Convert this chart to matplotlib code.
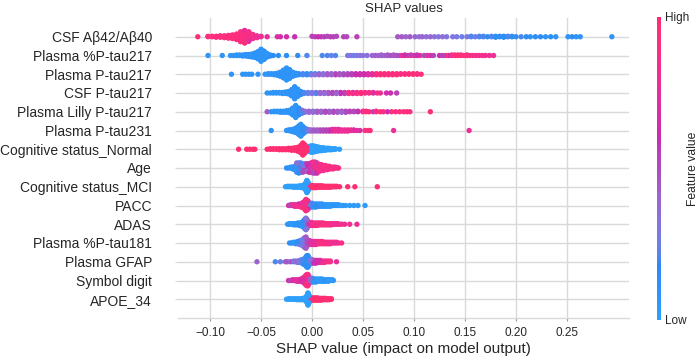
import numpy as np
import matplotlib
matplotlib.use('Agg')
import matplotlib.pyplot as plt
from matplotlib.colors import LinearSegmentedColormap, Normalize
from matplotlib.cm import ScalarMappable

plt.rcParams['font.family'] = ['Liberation Sans', 'DejaVu Sans']

# ─── Data: (SHAP value, n samples, feature value 0..1) ───

FEATURES = [
    'CSF Aβ42/Aβ40', 'Plasma %P-tau217', 'Plasma P-tau217', 'CSF P-tau217',
    'Plasma Lilly P-tau217', 'Plasma P-tau231', 'Cognitive status_Normal', 'Age',
    'Cognitive status_MCI', 'PACC', 'ADAS', 'Plasma %P-tau181', 'Plasma GFAP',
    'Symbol digit', 'APOE_34',
]

csf_ab_ratio = [
    (-0.112, 1, .95), (-0.102, 2, .9), (-0.098, 2, .95), (-0.094, 3, .9), (-0.090, 4, .95),
    (-0.086, 5, .9), (-0.082, 7, .95), (-0.078, 9, .9), (-0.074, 13, .95), (-0.070, 19, .9),
    (-0.070, 4, .75), (-0.066, 24, .95), (-0.066, 5, .75), (-0.062, 18, .9), (-0.062, 4, .7),
    (-0.058, 10, .85), (-0.054, 5, .8), (-0.050, 2, .8),
    (-0.044, 1, .75), (-0.034, 1, .7), (-0.031, 1, .65), (-0.025, 1, .65), (-0.017, 1, .6),
    (0.000, 1, .55), (0.003, 1, .55), (0.006, 1, .6), (0.009, 1, .55), (0.012, 1, .55),
    (0.015, 1, .5), (0.018, 1, .55), (0.021, 1, .55), (0.024, 1, .5), (0.031, 1, .55),
    (0.034, 1, .5), (0.044, 1, .55),
    (0.084, 1, .45), (0.088, 1, .45), (0.092, 1, .4), (0.096, 1, .45), (0.101, 1, .4),
    (0.105, 1, .35), (0.108, 1, .4), (0.112, 1, .35), (0.116, 1, .4), (0.120, 1, .35),
    (0.124, 1, .3), (0.128, 1, .35), (0.132, 1, .3), (0.138, 1, .3), (0.142, 1, .3),
    (0.147, 1, .25), (0.152, 1, .3), (0.156, 2, .2), (0.160, 1, .25), (0.164, 2, .2),
    (0.168, 2, .2), (0.172, 1, .15), (0.176, 2, .2), (0.180, 3, .15), (0.184, 2, .15),
    (0.188, 3, .15), (0.192, 2, .2), (0.196, 2, .15), (0.200, 1, .15), (0.205, 1, .2),
    (0.210, 1, .15), (0.214, 1, .1), (0.219, 1, .15), (0.224, 1, .15), (0.229, 1, .1),
    (0.234, 1, .15), (0.239, 1, .1), (0.251, 1, .1), (0.255, 1, .15), (0.259, 1, .1),
    (0.263, 1, .1), (0.294, 1, .1),
]

plasma_pct_ptau217 = [
    (-0.102, 1, .1), (-0.088, 1, .1), (-0.080, 1, .1), (-0.077, 1, .1), (-0.074, 2, .1),
    (-0.071, 2, .1), (-0.068, 3, .1), (-0.065, 4, .1), (-0.062, 5, .1), (-0.059, 7, .1),
    (-0.056, 10, .1), (-0.053, 16, .1), (-0.050, 26, .1), (-0.047, 18, .1), (-0.044, 8, .1),
    (-0.041, 3, .15), (-0.038, 1, .15),
    (-0.033, 1, .15), (-0.025, 1, .15), (-0.014, 1, .15), (-0.005, 1, .2), (0.010, 1, .2),
    (0.015, 1, .2), (0.019, 1, .25), (0.023, 1, .2),
    (0.035, 1, .3), (0.038, 1, .3), (0.041, 1, .25), (0.044, 1, .3), (0.047, 1, .35),
    (0.050, 1, .3), (0.054, 1, .35), (0.059, 1, .4), (0.062, 1, .45), (0.065, 1, .4),
    (0.068, 2, .45), (0.071, 1, .4), (0.074, 2, .45), (0.077, 1, .5), (0.080, 2, .45),
    (0.083, 1, .5), (0.086, 1, .45), (0.088, 1, .8), (0.091, 2, .6), (0.094, 1, .85),
    (0.097, 2, .55), (0.100, 1, .8), (0.103, 2, .6), (0.106, 1, .85), (0.110, 1, .5),
    (0.113, 1, .8), (0.116, 1, .6), (0.119, 1, .55), (0.125, 1, .6), (0.128, 1, .55),
    (0.131, 1, .85), (0.134, 1, .6), (0.137, 2, .9), (0.140, 2, .9), (0.143, 2, .95),
    (0.146, 2, .9), (0.149, 1, .95), (0.152, 2, .9), (0.155, 1, .85), (0.158, 1, .9),
    (0.161, 1, .85), (0.164, 1, .9), (0.167, 1, .85), (0.170, 1, .8), (0.174, 1, .85),
    (0.178, 1, .8),
]

plasma_ptau217 = [
    (-0.079, 1, .1), (-0.068, 1, .1), (-0.065, 1, .1), (-0.062, 1, .1), (-0.059, 1, .1),
    (-0.053, 1, .1), (-0.046, 1, .1), (-0.043, 2, .1), (-0.040, 2, .1), (-0.037, 3, .1),
    (-0.034, 5, .1), (-0.031, 9, .1), (-0.028, 16, .1), (-0.025, 24, .1), (-0.022, 18, .1),
    (-0.019, 9, .1), (-0.016, 5, .1),
    (-0.013, 3, .15), (-0.009, 3, .2), (-0.005, 3, .15), (-0.001, 2, .3), (-0.001, 1, .15),
    (0.003, 2, .35), (0.003, 1, .2), (0.007, 2, .4), (0.007, 1, .25), (0.011, 3, .35),
    (0.015, 2, .45), (0.015, 1, .3), (0.019, 3, .4), (0.023, 2, .45), (0.023, 1, .55),
    (0.027, 3, .45), (0.031, 2, .5), (0.031, 1, .35), (0.035, 3, .5), (0.039, 3, .55),
    (0.043, 3, .6), (0.047, 3, .65), (0.051, 3, .6), (0.055, 3, .7), (0.059, 3, .75),
    (0.063, 3, .9), (0.067, 3, .95), (0.071, 3, .9), (0.075, 3, .95), (0.079, 3, .9),
    (0.083, 3, .95), (0.087, 2, .9), (0.091, 2, .95), (0.095, 2, .9), (0.099, 2, .95),
    (0.103, 2, .9), (0.107, 1, .95),
]

csf_ptau217 = [
    (-0.044, 1, .1), (-0.041, 1, .1), (-0.038, 2, .1), (-0.035, 2, .1), (-0.032, 2, .1),
    (-0.029, 3, .1), (-0.026, 4, .1), (-0.023, 6, .1), (-0.020, 14, .1), (-0.017, 26, .1),
    (-0.014, 16, .1), (-0.011, 7, .15),
    (-0.008, 3, .2), (-0.004, 3, .25), (0.000, 3, .3), (0.004, 2, .35), (0.004, 1, .2),
    (0.008, 3, .4), (0.012, 2, .35), (0.012, 1, .5), (0.016, 3, .45), (0.020, 3, .5),
    (0.024, 2, .55), (0.024, 1, .4), (0.028, 3, .6), (0.032, 2, .7), (0.032, 1, .5),
    (0.036, 3, .9), (0.040, 2, .85), (0.040, 1, .6), (0.044, 3, .9), (0.048, 2, .95),
    (0.048, 1, .65), (0.052, 2, .85), (0.056, 2, .9), (0.060, 2, .7), (0.064, 1, .9),
    (0.067, 1, .8), (0.073, 1, .65), (0.077, 1, .6), (0.083, 1, .55),
]

plasma_lilly_ptau217 = [
    (-0.044, 1, .45), (-0.040, 1, .1), (-0.037, 2, .1), (-0.034, 2, .1), (-0.031, 3, .1),
    (-0.028, 3, .1), (-0.025, 4, .1), (-0.022, 6, .1), (-0.019, 14, .1), (-0.016, 24, .1),
    (-0.013, 14, .15), (-0.010, 5, .2), (-0.010, 2, .4),
    (-0.007, 3, .35), (-0.003, 3, .4), (0.001, 3, .35), (0.005, 3, .45), (0.009, 3, .4),
    (0.013, 3, .5), (0.017, 2, .45), (0.017, 1, .3), (0.021, 3, .5), (0.025, 3, .45),
    (0.029, 2, .55), (0.029, 1, .4), (0.033, 3, .5), (0.037, 2, .55), (0.041, 2, .5),
    (0.045, 2, .6), (0.050, 2, .9), (0.053, 2, .95), (0.056, 1, .9), (0.060, 1, .55),
    (0.063, 2, .9), (0.067, 1, .95), (0.070, 1, .9), (0.074, 1, .6), (0.078, 1, .95),
    (0.082, 1, .9), (0.086, 1, .95), (0.090, 1, .9), (0.093, 1, .95), (0.096, 1, .9),
    (0.116, 1, .95),
]

plasma_ptau231 = [
    (-0.040, 1, .1), (-0.025, 1, .1), (-0.023, 2, .1), (-0.021, 3, .1), (-0.019, 5, .1),
    (-0.017, 7, .1), (-0.015, 10, .1), (-0.013, 16, .1), (-0.011, 22, .1), (-0.009, 14, .15),
    (-0.007, 8, .2), (-0.004, 4, .35), (-0.001, 3, .4), (0.002, 3, .45), (0.005, 3, .45),
    (0.008, 3, .5), (0.011, 3, .5), (0.014, 3, .55), (0.017, 3, .6), (0.020, 4, .75),
    (0.023, 4, .8), (0.026, 4, .7), (0.029, 3, .85), (0.032, 3, .8), (0.035, 3, .75),
    (0.038, 2, .85), (0.041, 2, .7), (0.044, 1, .75), (0.047, 1, .65), (0.052, 1, .9),
    (0.055, 1, .95), (0.057, 1, .9), (0.080, 1, .8), (0.154, 1, .8),
]

cognitive_normal = [
    (-0.072, 1, 1), (-0.064, 1, 1), (-0.061, 1, 1), (-0.058, 1, 1), (-0.056, 1, 1),
    (-0.044, 1, 1), (-0.041, 2, 1), (-0.038, 2, 1), (-0.035, 2, 1), (-0.032, 3, 1),
    (-0.029, 3, 1), (-0.026, 3, 1), (-0.023, 4, 1), (-0.020, 5, 1), (-0.017, 6, 1),
    (-0.014, 9, 1), (-0.011, 16, 1), (-0.009, 26, 1), (-0.007, 18, 1), (-0.005, 8, 1),
    (-0.003, 10, 0), (-0.001, 14, 0), (0.001, 14, 0), (0.003, 12, 0), (0.005, 10, 0),
    (0.007, 8, 0), (0.009, 7, 0), (0.011, 6, 0), (0.013, 5, 0), (0.015, 4, 0),
    (0.017, 4, 0), (0.019, 3, 0), (0.021, 2, 0), (0.023, 2, 0), (0.027, 1, 0),
]

age = [
    (-0.025, 1, .1), (-0.023, 1, .15), (-0.021, 2, .1), (-0.019, 3, .15), (-0.017, 5, .1),
    (-0.015, 8, .2), (-0.015, 4, .35), (-0.013, 8, .15), (-0.013, 5, .4), (-0.011, 7, .2),
    (-0.011, 5, .45), (-0.009, 6, .25), (-0.009, 5, .5), (-0.007, 5, .3), (-0.007, 5, .55),
    (-0.005, 4, .35), (-0.005, 6, .6), (-0.003, 4, .4), (-0.003, 7, .65), (-0.001, 3, .45),
    (-0.001, 9, .75), (0.001, 3, .5), (0.001, 11, .85), (0.003, 2, .55), (0.003, 12, .9),
    (0.005, 2, .6), (0.005, 11, .9), (0.007, 9, .85), (0.009, 8, .9), (0.011, 7, .85),
    (0.013, 6, .9), (0.015, 5, .85), (0.017, 4, .9), (0.019, 3, .85), (0.021, 3, .9),
    (0.023, 2, .85), (0.025, 1, .9), (0.026, 1, .95),
]

cognitive_mci = [
    (-0.026, 1, 0), (-0.024, 2, 0), (-0.022, 2, 0), (-0.020, 2, 0), (-0.018, 3, 0),
    (-0.016, 3, 0), (-0.014, 3, 0), (-0.012, 4, 0), (-0.010, 5, 0), (-0.008, 8, 0),
    (-0.006, 18, 0), (-0.005, 28, 0), (-0.004, 20, 0),
    (-0.002, 6, 1), (0.000, 6, 1), (0.002, 5, 1), (0.004, 5, 1), (0.006, 4, 1),
    (0.008, 4, 1), (0.010, 4, 1), (0.012, 3, 1), (0.014, 3, 1), (0.016, 3, 1),
    (0.018, 3, 1), (0.020, 2, 1), (0.022, 2, 1), (0.024, 2, 1), (0.027, 1, 1),
    (0.035, 1, 1), (0.042, 1, 1), (0.064, 1, 1),
]

pacc = [
    (-0.023, 1, .7), (-0.021, 2, .5), (-0.019, 2, .8), (-0.017, 3, .6), (-0.015, 3, .85),
    (-0.013, 4, .65), (-0.011, 5, .9), (-0.009, 8, .8), (-0.008, 8, .9), (-0.007, 12, .95),
    (-0.006, 16, .9), (-0.005, 14, .85), (-0.004, 8, .6), (-0.004, 4, .45),
    (-0.002, 6, .3), (0.000, 6, .2), (0.002, 5, .1), (0.004, 5, .15), (0.006, 4, .1),
    (0.008, 4, .1), (0.010, 4, .1), (0.012, 3, .1), (0.014, 3, .1), (0.016, 3, .05),
    (0.018, 3, .1), (0.020, 2, .05), (0.022, 2, .1), (0.024, 2, .05), (0.026, 2, .1),
    (0.028, 1, .05), (0.030, 1, .1), (0.033, 1, .05), (0.037, 1, .05), (0.041, 1, .05),
    (0.045, 1, .05), (0.052, 1, .05),
]

adas = [
    (-0.024, 1, .05), (-0.022, 2, .1), (-0.020, 2, .05), (-0.018, 3, .1), (-0.016, 3, .1),
    (-0.014, 4, .1), (-0.012, 5, .15), (-0.010, 7, .1), (-0.008, 12, .2), (-0.007, 16, .15),
    (-0.006, 20, .3), (-0.005, 12, .4), (-0.005, 4, .75),
    (-0.003, 6, .6), (-0.001, 6, .8), (0.001, 5, .9), (0.003, 5, .85), (0.005, 5, .9),
    (0.007, 4, .95), (0.009, 4, .9), (0.011, 4, .85), (0.013, 3, .9), (0.015, 3, .95),
    (0.017, 3, .9), (0.019, 3, .85), (0.021, 2, .9), (0.023, 2, .8), (0.025, 2, .9),
    (0.027, 1, .85), (0.029, 1, .9), (0.032, 1, .8), (0.037, 1, .85), (0.044, 1, .8),
]

plasma_pct_ptau181 = [
    (-0.022, 1, .1), (-0.020, 1, .15), (-0.018, 2, .1), (-0.016, 3, .2), (-0.014, 4, .15),
    (-0.012, 6, .3), (-0.010, 8, .25), (-0.008, 12, .35), (-0.007, 14, .4), (-0.006, 16, .45),
    (-0.005, 10, .5), (-0.004, 6, .55),
    (-0.002, 6, .7), (0.000, 5, .85), (0.002, 5, .75), (0.004, 5, .9), (0.006, 4, .8),
    (0.008, 4, .9), (0.010, 4, .85), (0.012, 3, .9), (0.014, 3, .8), (0.016, 3, .9),
    (0.018, 3, .85), (0.020, 2, .9), (0.022, 2, .8), (0.024, 2, .9), (0.026, 1, .85),
    (0.029, 1, .9),
]

plasma_gfap = [
    (-0.054, 1, .4), (-0.036, 1, .2), (-0.031, 1, .25), (-0.026, 1, .45), (-0.024, 1, .4),
    (-0.021, 1, .5), (-0.018, 2, .3), (-0.016, 2, .35), (-0.014, 3, .25), (-0.012, 4, .3),
    (-0.010, 6, .2), (-0.008, 9, .15), (-0.006, 14, .1), (-0.005, 18, .15), (-0.004, 18, .1),
    (-0.003, 12, .2), (-0.002, 8, .3),
    (0.000, 6, .5), (0.002, 5, .6), (0.004, 5, .7), (0.006, 4, .65), (0.008, 4, .8),
    (0.010, 3, .75), (0.012, 3, .85), (0.014, 2, .8), (0.016, 2, .9), (0.018, 2, .85),
    (0.024, 1, .75),
]

symbol_digit = [
    (-0.023, 1, .65), (-0.021, 1, .5), (-0.019, 2, .7), (-0.017, 2, .55), (-0.015, 3, .75),
    (-0.013, 3, .6), (-0.011, 4, .8), (-0.009, 6, .7), (-0.008, 8, .85), (-0.007, 10, .9),
    (-0.006, 14, .95), (-0.005, 16, .9), (-0.004, 16, .85), (-0.003, 10, .6), (-0.002, 6, .4),
    (0.000, 6, .15), (0.002, 5, .1), (0.004, 5, .1), (0.006, 4, .05), (0.008, 4, .1),
    (0.010, 4, .05), (0.012, 3, .1), (0.014, 3, .05), (0.016, 3, .1), (0.018, 2, .05),
    (0.020, 2, .1), (0.021, 1, .05),
]

apoe_34 = [
    (-0.025, 1, 0), (-0.023, 2, 0), (-0.021, 2, 0), (-0.019, 2, 0), (-0.017, 2, 0),
    (-0.015, 3, 0), (-0.013, 3, 0), (-0.011, 3, 0), (-0.009, 4, 0), (-0.007, 6, 0),
    (-0.005, 16, 0), (-0.004, 28, 0), (-0.003, 18, 0),
    (-0.001, 5, 1), (0.001, 6, 1), (0.003, 6, 1), (0.005, 6, 1), (0.007, 5, 1),
    (0.009, 5, 1), (0.011, 4, 1), (0.013, 4, 1), (0.015, 3, 1), (0.017, 3, 1),
    (0.019, 2, 1),
]

ROWS = [
    csf_ab_ratio, plasma_pct_ptau217, plasma_ptau217, csf_ptau217,
    plasma_lilly_ptau217, plasma_ptau231, cognitive_normal, age, cognitive_mci,
    pacc, adas, plasma_pct_ptau181, plasma_gfap, symbol_digit, apoe_34,
]

XTICKS = [-0.10, -0.05, 0.00, 0.05, 0.10, 0.15, 0.20, 0.25]


# ─── shap-like red/blue colormap (lch interpolation) ───

def lch_to_rgb(l, c, h):
    a = c * np.cos(h)
    b = c * np.sin(h)
    fy = (l + 16) / 116
    fx = fy + a / 500
    fz = fy - b / 200

    def finv(t):
        return np.where(t ** 3 > 0.008856, t ** 3, (t - 16 / 116) / 7.787)

    xyz = np.array([0.95047 * finv(fx), finv(fy), 1.08883 * finv(fz)])
    m = np.array([[3.2406, -1.5372, -0.4986],
                  [-0.9689, 1.8758, 0.0415],
                  [0.0557, -0.2040, 1.0570]])
    rgb = m @ xyz
    rgb = np.where(rgb > 0.0031308, 1.055 * np.abs(rgb) ** (1 / 2.4) - 0.055, 12.92 * rgb)
    return np.clip(rgb, 0, 1)


def red_blue_cmap(wash=0.18):
    blue_lch = [54., 70., 4.6588]
    red_lch = [54., 90., 0.35470565 + 2 * np.pi]
    nsteps = 100
    ls = list(np.linspace(blue_lch[0], 40., nsteps // 2)) + list(np.linspace(40., red_lch[0], nsteps // 2))
    cs = np.linspace(blue_lch[1], red_lch[1], nsteps)
    hs = np.linspace(blue_lch[2], red_lch[2], nsteps)
    # slightly washed out, the reference is a bit lighter than shap's raw colours
    colors = [lch_to_rgb(l, c, h) * (1 - wash) + wash for l, c, h in zip(ls, cs, hs)]
    return LinearSegmentedColormap.from_list('red_blue', colors)


def swarm_offsets(x, key):
    """Stack points that fall into the same bin, like shap's beeswarm."""
    nbins = 100
    quant = np.round(nbins * (x - x.min()) / (x.max() - x.min() + 1e-8))
    order = np.lexsort((key, quant))
    ys = np.zeros(len(x))
    layer = 0
    last = -1
    for i in order:
        if quant[i] != last:
            layer = 0
        ys[i] = np.ceil(layer / 2) * ((layer % 2) * 2 - 1)
        layer += 1
        last = quant[i]
    return ys * 0.9 * 0.4 / np.max(ys + 1)


cmap = red_blue_cmap()
grid_col = '#d9d9d9'
text_col = '#262626'

fig = plt.figure(figsize=(7, 3.6), dpi=100)
ax = fig.add_axes([178 / 700, 1 - 318 / 360, 451 / 700, 300 / 360])

n_rows = len(FEATURES)
for i, groups in enumerate(ROWS):
    g = np.array(groups, dtype=float)
    xs = np.repeat(g[:, 0], g[:, 1].astype(int))
    cs = np.repeat(g[:, 2], g[:, 1].astype(int))
    key = (np.arange(len(xs)) * 0.6180339887) % 1
    ys = swarm_offsets(xs, key)
    pos = n_rows - 1 - i
    o = np.argsort(key)
    ax.scatter(xs[o], pos + ys[o], c=cs[o], cmap=cmap, vmin=0, vmax=1,
               s=15, linewidths=0, alpha=1, zorder=3)

ax.set_xlim(-0.1314, 0.3108)
ax.set_ylim(-1, n_rows)
ax.set_yticks(range(n_rows))
ax.set_yticklabels(FEATURES[::-1])
ax.set_xticks(XTICKS)
ax.set_xticklabels([f'{t:.2f}'.replace('-', '\u2212') for t in XTICKS])

ax.grid(True, color=grid_col, linewidth=1.0)
ax.set_axisbelow(True)
for s in ['top', 'right', 'left']:
    ax.spines[s].set_visible(False)
ax.spines['bottom'].set_color(grid_col)
ax.spines['bottom'].set_linewidth(1.0)

ax.tick_params(axis='x', length=2.2, width=0.8, color='#999999', pad=4.5,
               labelsize=8.5, labelcolor=text_col)
ax.tick_params(axis='y', length=2.2, width=0.8, color=grid_col, pad=16.5,
               labelsize=10, labelcolor=text_col)

ax.set_xlabel('SHAP value (impact on model output)', fontsize=11, color=text_col, labelpad=2)
ax.set_title('SHAP values', fontsize=9.5, color=text_col, pad=4.3)

# colour bar
cax = fig.add_axes([657 / 700, 1 - 320 / 360, 4 / 700, 303 / 360])
cb = fig.colorbar(ScalarMappable(norm=Normalize(0, 1), cmap=cmap), cax=cax, ticks=[0, 1])
cb.set_ticklabels(['Low', 'High'])
cb.outline.set_visible(False)
cax.tick_params(length=0, labelsize=8.5, pad=3, labelcolor=text_col)
cb.set_label('Feature value', fontsize=8.7, color=text_col)
cax.yaxis.label.set_verticalalignment('center')
cax.yaxis.set_label_coords(9.0, 0.5)

fig.savefig('out.png', dpi=100)
